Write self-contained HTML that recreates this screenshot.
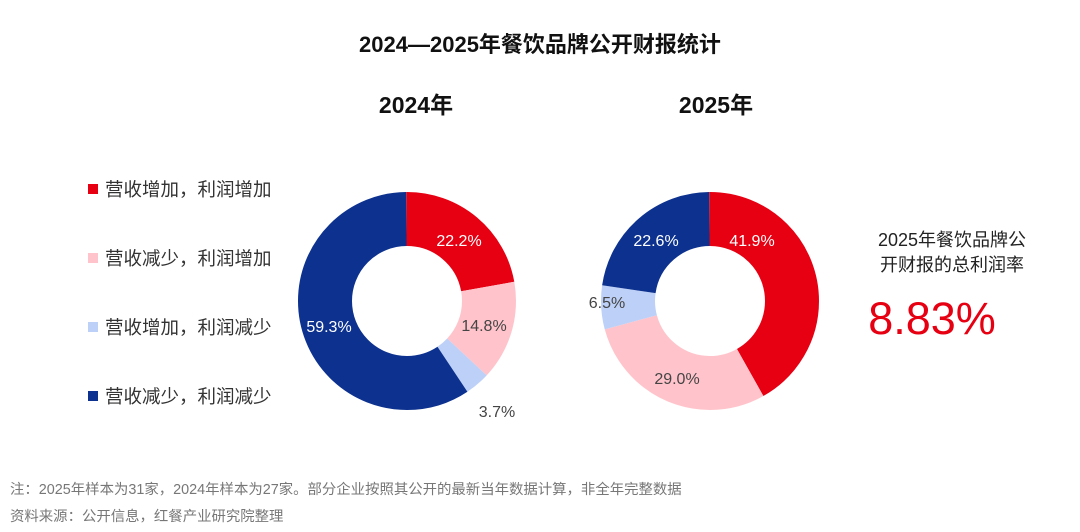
<!DOCTYPE html>
<html><head><meta charset="utf-8"><style>
body{margin:0;width:1080px;height:527px;background:#fff;overflow:hidden;font-family:"Liberation Sans","Noto Sans CJK SC",sans-serif}
</style></head><body>
<svg width="1080" height="527" viewBox="0 0 1080 527" xmlns="http://www.w3.org/2000/svg" font-family="Liberation Sans, Noto Sans CJK SC, sans-serif">
<text x="540" y="52" text-anchor="middle" font-size="22" font-weight="bold" fill="#111">2024—2025年餐饮品牌公开财报统计</text>
<text x="416" y="113" text-anchor="middle" font-size="23" font-weight="bold" fill="#111">2024年</text>
<text x="716" y="113" text-anchor="middle" font-size="23" font-weight="bold" fill="#111">2025年</text>
<g font-size="18.5" fill="#333">
<rect x="88" y="184" width="10" height="10" fill="#e60012"/><text x="105" y="196">营收增加，利润增加</text>
<rect x="88" y="253" width="10" height="10" fill="#ffc4cb"/><text x="105" y="265">营收减少，利润增加</text>
<rect x="88" y="322" width="10" height="10" fill="#bdd0f7"/><text x="105" y="334">营收增加，利润减少</text>
<rect x="88" y="391" width="10" height="10" fill="#0c318e"/><text x="105" y="403">营收减少，利润减少</text>
</g>
<g transform="translate(407,301)">
<g transform="rotate(-90)" fill="none" stroke-width="54">
<circle r="82" pathLength="100" stroke="#e60012" stroke-dasharray="22.2 77.8" stroke-dashoffset="0"/>
<circle r="82" pathLength="100" stroke="#ffc4cb" stroke-dasharray="14.8 85.2" stroke-dashoffset="-22.2"/>
<circle r="82" pathLength="100" stroke="#bdd0f7" stroke-dasharray="3.7 96.3" stroke-dashoffset="-37"/>
<circle r="82" pathLength="100" stroke="#0c318e" stroke-dasharray="59.3 40.7" stroke-dashoffset="-40.7"/>
</g></g>
<g transform="translate(710,301)">
<g transform="rotate(-90)" fill="none" stroke-width="54">
<circle r="82" pathLength="100" stroke="#e60012" stroke-dasharray="41.9 58.1" stroke-dashoffset="0"/>
<circle r="82" pathLength="100" stroke="#ffc4cb" stroke-dasharray="29 71" stroke-dashoffset="-41.9"/>
<circle r="82" pathLength="100" stroke="#bdd0f7" stroke-dasharray="6.5 93.5" stroke-dashoffset="-70.9"/>
<circle r="82" pathLength="100" stroke="#0c318e" stroke-dasharray="22.6 77.4" stroke-dashoffset="-77.4"/>
</g></g>
<g font-size="16" text-anchor="middle">
<text x="459" y="246" fill="#fff">22.2%</text>
<text x="484" y="331" fill="#444">14.8%</text>
<text x="497" y="417" fill="#444">3.7%</text>
<text x="329" y="332" fill="#fff">59.3%</text>
<text x="656" y="246" fill="#fff">22.6%</text>
<text x="752" y="246" fill="#fff">41.9%</text>
<text x="607" y="308" fill="#444">6.5%</text>
<text x="677" y="384" fill="#444">29.0%</text>
</g>
<text x="952" y="246" text-anchor="middle" font-size="18" fill="#222">2025年餐饮品牌公</text>
<text x="952" y="271" text-anchor="middle" font-size="18" fill="#222">开财报的总利润率</text>
<text x="932" y="334" text-anchor="middle" font-size="45" fill="#e60012">8.83%</text>
<text x="10" y="494" font-size="14.4" fill="#777">注：2025年样本为31家，2024年样本为27家。部分企业按照其公开的最新当年数据计算，非全年完整数据</text>
<text x="10" y="521" font-size="14.4" fill="#777">资料来源：公开信息，红餐产业研究院整理</text>
</svg>
</body></html>
